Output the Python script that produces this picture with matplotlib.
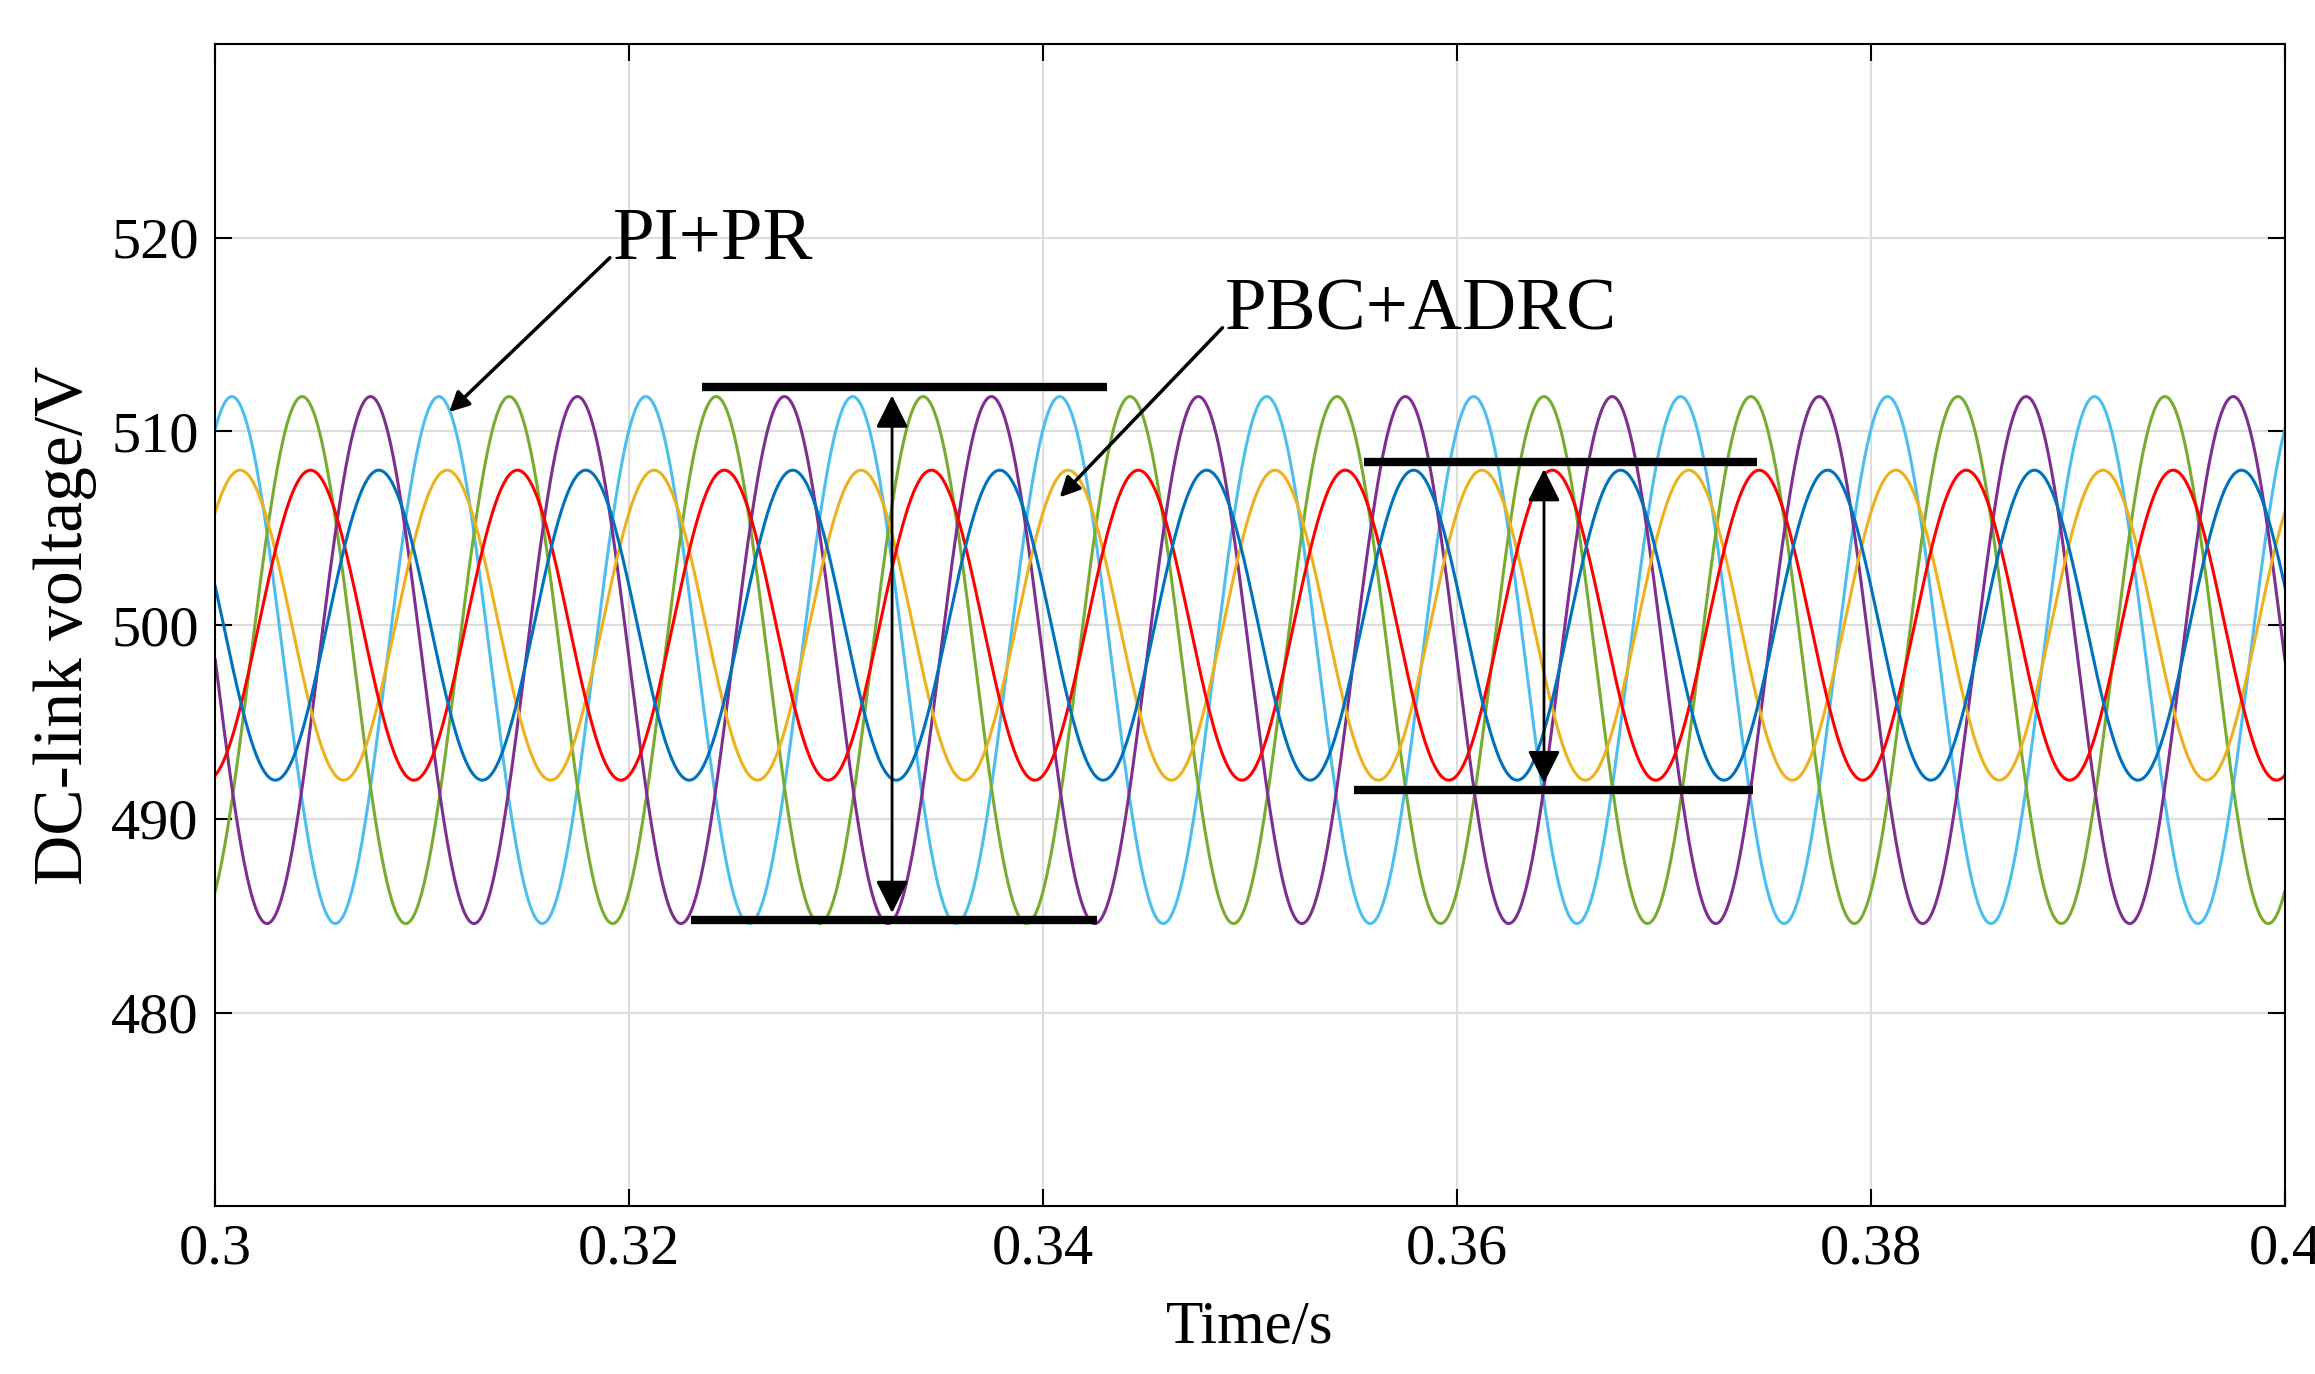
import numpy as np
import matplotlib.pyplot as plt

plt.rcParams['font.family'] = ['Liberation Serif', 'DejaVu Serif']

# waveform parameters (100 Hz ripple, three phases per controller)
freq = 100.0
pi_pr_offset = 498.2
pi_pr_amp = 13.6
pi_pr_peaks = [0.3008, 0.3042, 0.3075]          # cyan, green, purple
pi_pr_colors = ['#4DBEEE', '#77AC30', '#7E2F8E']
pbc_offset = 500.0
pbc_amp = 8.0
pbc_peaks = [0.3012, 0.3046, 0.3079]            # orange, red, blue
pbc_colors = ['#EDB120', '#FF0000', '#0072BD']

t = np.linspace(0.3, 0.4, 4000)

fig = plt.figure(figsize=(23.15, 13.74), dpi=100)
ax = fig.add_axes([0.093, 0.122, 0.894, 0.846])

for pk, c in zip(pi_pr_peaks, pi_pr_colors):
    ax.plot(t, pi_pr_offset + pi_pr_amp * np.cos(2 * np.pi * freq * (t - pk)), color=c, lw=2.2)
for pk, c in zip(pbc_peaks, pbc_colors):
    ax.plot(t, pbc_offset + pbc_amp * np.cos(2 * np.pi * freq * (t - pk)), color=c, lw=2.2)

# amplitude bars and double arrows
ax.plot([0.3235, 0.3431], [512.3, 512.3], color='k', lw=6, solid_capstyle='butt')
ax.plot([0.3230, 0.3426], [484.8, 484.8], color='k', lw=6, solid_capstyle='butt')
ax.annotate('', xy=(0.3327, 512.0), xytext=(0.3327, 485.0),
            arrowprops=dict(arrowstyle='<|-|>', color='k', lw=2, mutation_scale=50))
ax.plot([0.3555, 0.3745], [508.4, 508.4], color='k', lw=6, solid_capstyle='butt')
ax.plot([0.3550, 0.3743], [491.5, 491.5], color='k', lw=6, solid_capstyle='butt')
ax.annotate('', xy=(0.3642, 508.2), xytext=(0.3642, 491.7),
            arrowprops=dict(arrowstyle='<|-|>', color='k', lw=2, mutation_scale=50))

ax.annotate('PI+PR', xy=(0.3113, 511.0), xytext=(0.3192, 519.8), fontsize=54,
            va='center', ha='left',
            arrowprops=dict(arrowstyle='-|>', color='k', lw=2.5, mutation_scale=30,
                            shrinkA=0, shrinkB=0, relpos=(0, 0.3)))
ax.annotate('PBC+ADRC', xy=(0.3408, 506.6), xytext=(0.3488, 516.2), fontsize=54,
            va='center', ha='left',
            arrowprops=dict(arrowstyle='-|>', color='k', lw=2.5, mutation_scale=30,
                            shrinkA=0, shrinkB=0, relpos=(0, 0.3)))

ax.set_xlim(0.3, 0.4)
ax.set_ylim(470, 530)
ax.set_xticks([0.3, 0.32, 0.34, 0.36, 0.38, 0.4])
ax.set_xticklabels(['0.3', '0.32', '0.34', '0.36', '0.38', '0.4'])
ax.set_yticks([480, 490, 500, 510, 520])
ax.grid(color='#DDDDDD', lw=1.5)
ax.tick_params(direction='in', length=12, width=1.5, labelsize=42, top=True, right=True, pad=12)
for s in ax.spines.values():
    s.set_linewidth(1.5)
ax.set_xlabel('Time/s', fontsize=44, labelpad=18)
ax.set_ylabel('DC-link voltage/V', fontsize=50, labelpad=10)

fig.savefig('out.png', dpi=100)
